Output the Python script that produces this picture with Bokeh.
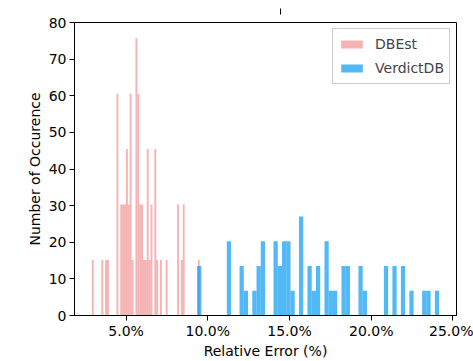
import numpy as np
from bokeh.plotting import figure
from bokeh.models import NumeralTickFormatter, FixedTicker, LinearAxis, Range1d
from bokeh.embed import file_html
from bokeh.resources import INLINE

# ---- data ----
dbest_label = "DBEst"
dbest_start = 0.02907          # left edge of first bin (fraction)
dbest_bin_width = 0.0011586
dbest_counts = [1, 0, 0, 0, 0, 1, 0, 1, 1, 0,
                0, 0, 0, 4, 0, 2, 2, 2, 3, 2,
                4, 1, 0, 5, 4, 2, 2, 1, 1, 3,
                1, 2, 0, 3, 1, 0, 1, 0, 0, 1,
                0, 0, 0, 0, 0, 2, 0, 1, 2, 0,
                0, 0, 0, 0, 0, 0, 1]

verdict_label = "VerdictDB"
verdict_start = 0.09345
verdict_bin_width = 0.002598
verdict_counts = [2, 0, 0, 0, 0, 0, 0, 3, 0, 0,
                  2, 1, 0, 1, 2, 3, 0, 0, 3, 2,
                  3, 3, 1, 0, 4, 0, 2, 1, 2, 0,
                  3, 1, 1, 0, 2, 2, 0, 0, 2, 1,
                  0, 0, 0, 0, 2, 0, 2, 0, 2, 0,
                  1, 0, 0, 1, 1, 0, 1]

x_ticks = [0.05, 0.10, 0.15, 0.20, 0.25]
y_ticks = [0, 10, 20, 30, 40, 50, 60, 70, 80]
x_label = "Relative Error (%)"
y_label = "Number of Occurence"

FONT = "DejaVu Sans"


def hist_quads(start, width, counts):
    counts = np.array(counts, dtype=float)
    n = counts.sum()
    left = start + width * np.arange(len(counts))
    right = left + width
    top = counts / (n * width)
    return left, right, top


p = figure(width=473, height=361, output_backend="svg", toolbar_location=None,
           x_range=Range1d(0.018446, 0.25217), y_range=Range1d(0, 80),
           min_border_left=74, min_border_right=17, min_border_top=22, min_border_bottom=46)

l, r, t = hist_quads(dbest_start, dbest_bin_width, dbest_counts)
p.quad(left=l, right=r, top=t, bottom=0, fill_color="#F08080", fill_alpha=0.6,
       line_color=None, legend_label=dbest_label)
l, r, t = hist_quads(verdict_start, verdict_bin_width, verdict_counts)
p.quad(left=l, right=r, top=t, bottom=0, fill_color="#089BF4", fill_alpha=0.7,
       line_color=None, legend_label=verdict_label)

p.grid.visible = False
p.outline_line_color = "black"
p.outline_line_width = 1

for ax in (p.xaxis[0], p.yaxis[0]):
    ax.major_label_text_font = FONT
    ax.major_label_text_font_size = "14px"
    ax.major_label_text_color = "black"
    ax.axis_label_text_font = FONT
    ax.axis_label_text_font_size = "14px"
    ax.axis_label_text_font_style = "normal"
    ax.axis_label_text_color = "black"
    ax.minor_tick_line_color = None
    ax.major_tick_out = 5
    ax.major_tick_in = 0
    ax.axis_line_color = "black"
    ax.major_tick_line_color = "black"

p.xaxis.ticker = FixedTicker(ticks=x_ticks)
p.xaxis.formatter = NumeralTickFormatter(format="0.0%")
p.xaxis.axis_label = x_label
p.xaxis.major_label_standoff = 2
p.xaxis.axis_label_standoff = 1
p.yaxis.ticker = FixedTicker(ticks=y_ticks)
p.yaxis.axis_label = y_label
p.yaxis.major_label_standoff = 3
p.yaxis.axis_label_standoff = 3

# stray tick above the frame
top_ax = LinearAxis(ticker=FixedTicker(ticks=[0.1442]), axis_line_color=None,
                    major_tick_in=-8, major_tick_out=14, minor_tick_line_color=None,
                    major_label_text_alpha=0, major_label_text_font_size="1px",
                    major_label_standoff=0, major_tick_line_color="black")
p.add_layout(top_ax, "above")

lg = p.legend[0]
lg.location = "top_right"
lg.margin = 6
lg.padding = 5
lg.spacing = 4
lg.label_height = 20
lg.label_text_font = FONT
lg.label_text_font_size = "14px"
lg.glyph_width = 27
lg.glyph_height = 10
lg.label_standoff = 10
lg.border_line_color = "#cccccc"
lg.border_line_alpha = 1
lg.background_fill_alpha = 0.8

open("out.html", "w").write(file_html(p, INLINE))
